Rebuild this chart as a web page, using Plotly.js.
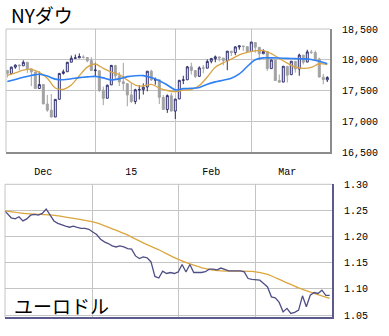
<!DOCTYPE html>
<html>
<head>
<meta charset="utf-8">
<script src="https://cdn.plot.ly/plotly-3.0.1.min.js"></script>
<style>
html,body{margin:0;padding:0;background:#fff;}
#chart{width:389px;height:336px;}
</style>
</head>
<body>
<div id="chart"></div>
<script>
// ---------- NY Dow daily candles (trading days) ----------
const dowDates = [
'2014-12-01','2014-12-02','2014-12-03','2014-12-04','2014-12-05','2014-12-08','2014-12-09','2014-12-10','2014-12-11','2014-12-12',
'2014-12-15','2014-12-16','2014-12-17','2014-12-18','2014-12-19','2014-12-22','2014-12-23','2014-12-24','2014-12-26','2014-12-29',
'2014-12-30','2014-12-31',
'2015-01-02','2015-01-05','2015-01-06','2015-01-07','2015-01-08','2015-01-09','2015-01-12','2015-01-13','2015-01-14','2015-01-15',
'2015-01-16','2015-01-20','2015-01-21','2015-01-22','2015-01-23','2015-01-26','2015-01-27','2015-01-28','2015-01-29','2015-01-30',
'2015-02-02','2015-02-03','2015-02-04','2015-02-05','2015-02-06','2015-02-09','2015-02-10','2015-02-11','2015-02-12','2015-02-13',
'2015-02-17','2015-02-18','2015-02-19','2015-02-20','2015-02-23','2015-02-24','2015-02-25','2015-02-26','2015-02-27',
'2015-03-02','2015-03-03','2015-03-04','2015-03-05','2015-03-06','2015-03-09','2015-03-10','2015-03-11','2015-03-12','2015-03-13',
'2015-03-16','2015-03-17','2015-03-18','2015-03-19','2015-03-20','2015-03-23','2015-03-24','2015-03-25','2015-03-26','2015-03-27'
];
const dowOpen = [
17827,17776,17880,17913,17901,17959,17853,17801,17533,17597,
17281,17180,17069,17357,17778,17805,17960,18024,18030,18046,
18035,17987,
17823,17821,17505,17374,17591,17907,17738,17641,17611,17428,
17321,17512,17514,17557,17815,17667,17673,17387,17191,17415,
17165,17362,17664,17674,17885,17824,17730,17869,17863,17975,
18017,18046,18028,17984,18139,18116,18208,18225,18213,
18134,18281,18203,18097,18135,17856,17995,17662,17637,17893,
17757,17975,17849,18075,17962,18127,18116,18012,17716,17673
];
const dowHigh = [
17827,17887,17924,17928,17991,17959,17853,17801,17808,17597,
17428,17443,17356,17778,17841,17963,18069,18086,18103,18073,
18035,18043,
17951,17821,17563,17597,17916,17916,17799,17949,17611,17622,
17528,17587,17616,17814,17838,17711,17673,17426,17436,17460,
17362,17666,17739,17899,17952,17824,17893,17915,18005,18031,
18069,18053,18028,18142,18143,18218,18231,18225,18213,
18288,18281,18203,18171,18135,18000,17995,17760,17895,17893,
17977,17975,18099,18075,18163,18161,18149,18034,17770,17731
];
const dowLow = [
17713,17776,17852,17832,17901,17787,17570,17528,17533,17281,
17154,17068,17069,17357,17758,17805,17960,18018,18030,18021,
17959,17820,
17731,17475,17262,17374,17591,17685,17572,17501,17243,17299,
17278,17354,17434,17487,17655,17593,17280,17190,17136,17164,
17037,17362,17603,17674,17760,17701,17730,17780,17863,17942,
17959,17973,17911,17830,18061,18074,18163,18144,18125,
18133,18115,17990,18097,17818,17856,17662,17633,17637,17630,
17757,17790,17740,17923,17962,18096,18011,17716,17601,17638
];
const dowClose = [
17776,17880,17913,17901,17959,17853,17801,17533,17597,17281,
17180,17068,17356,17778,17804,17959,18024,18030,18053,18038,
17983,17823,
17833,17501,17371,17585,17908,17737,17640,17613,17427,17320,
17512,17516,17554,17814,17673,17679,17388,17191,17417,17165,
17361,17666,17673,17885,17825,17729,17868,17862,17973,18019,
18047,18029,17986,18140,18117,18209,18225,18214,18133,
18288,18204,18097,18136,17856,17996,17662,17635,17895,17749,
17977,17849,18076,17959,18128,18116,18011,17718,17678,17712
];
// Moving averages, every second trading day
const dowMaShort = [
17745,17785,17830,17845,17795,17698,17540,17520,17590,17740,
17880,17931,17860,17800,17760,17670,17589,17573,17600,17540,
17500,17481,17505,17515,17580,17720,17880,17950,18010,18080,
18120,18145,18150,18100,18020,17945,17880,17860,17875,17935,17920
];
const dowMaLong = [
17645,17680,17715,17745,17765,17735,17685,17675,17690,17710,
17722,17730,17705,17672,17690,17725,17740,17742,17710,17660,
17590,17510,17530,17536,17550,17600,17640,17668,17700,17770,
17890,18000,18030,18030,18028,18022,18018,18015,18005,17975,17935
];
const dowTickDates = ['2014-12-12','2015-01-15','2015-02-13','2015-03-13'];
const dowTickText  = ['Dec','15','Feb','Mar'];
const dowYTicks = [16500,17000,17500,18000,18500];

// ---------- EUR/USD daily (weekdays) ----------
const euroStart = '2014-12-01', euroEnd = '2015-03-27';
const euroVals = [
1.252,1.244,1.236,1.234,1.238,1.230,1.234,1.241,1.2426,1.241,
1.2445,1.2528,1.240,1.230,1.2255,1.222,1.220,1.218,1.2202,1.2178,
1.2158,1.2158,1.214,1.209,1.204,1.195,1.190,1.1868,1.1825,1.1803,
1.1822,1.1803,1.1773,1.176,1.1632,1.158,1.1612,1.1594,1.1517,1.124,
1.121,1.134,1.1296,1.1315,1.1296,1.1326,1.1467,1.1326,1.1467,1.1315,
1.1315,1.1315,1.133,1.1378,1.1378,1.1365,1.140,1.137,1.1346,1.1346,
1.1346,1.1346,1.1326,1.120,1.1185,1.118,1.1168,1.1105,1.104,1.085,
1.083,1.0744,1.0563,1.063,1.0534,1.0553,1.0596,1.087,1.066,1.088,
1.0933,1.0915,1.0977,1.088,1.088
];
// moving average, every fourth weekday
const euroMa = [
1.2495,1.2455,1.2430,1.2415,1.2375,1.2325,1.2265,1.2150,1.2030,1.1880,
1.1750,1.1600,1.1480,1.1390,1.1346,1.1340,1.1335,1.1280,1.1150,1.1020,
1.0915,1.0820
];
const euroYTicks = [1.05,1.10,1.15,1.20,1.25,1.30];

// ---------- derived positions ----------
const dowIdx = dowDates.map((d,i)=>i);
const maIdx = dowIdx.filter(i=>i%2===0);
function monthStarts(dates){
  const out=[];
  dates.forEach((d,i)=>{ if(i>0 && d.slice(5,7)!==dates[i-1].slice(5,7)) out.push(i); });
  return out;
}
const dowGrid = monthStarts(dowDates);
const dowTickIdx = dowTickDates.map(d=>dowDates.indexOf(d));

const euroDates = [];
(function(){
  let t = new Date(euroStart+'T00:00:00Z'); const end = new Date(euroEnd+'T00:00:00Z');
  while(t<=end){ const wd=t.getUTCDay(); if(wd!==0&&wd!==6) euroDates.push(t.toISOString().slice(0,10)); t=new Date(t.getTime()+86400000); }
})();
const euroIdx = euroDates.map((d,i)=>i);
const euroMaIdx = euroIdx.filter(i=>i%4===0);
const euroGrid = monthStarts(euroDates);

// ---------- styling ----------
const W=389,H=336;
const GRID='#c4c4c4', NAVY='#2c2c6c', GREY='#a2a2a2';
const monoFont={family:'Liberation Mono, DejaVu Sans Mono, monospace',size:10,color:'#000'};
const jpFont={family:'Noto Sans CJK JP, sans-serif',size:19,color:'#000'};

const traces = [
  {type:'candlestick', x:dowIdx, open:dowOpen, high:dowHigh, low:dowLow, close:dowClose,
   xaxis:'x', yaxis:'y', whiskerwidth:0, hoverinfo:'skip', showlegend:false,
   increasing:{line:{color:NAVY,width:1}, fillcolor:'#ffffff'},
   decreasing:{line:{color:GREY,width:1}, fillcolor:GREY}},
  {type:'scatter', mode:'lines', x:maIdx, y:dowMaShort, xaxis:'x', yaxis:'y',
   line:{color:'#d9a445',width:1.3,shape:'spline',smoothing:0.8}, hoverinfo:'skip', showlegend:false},
  {type:'scatter', mode:'lines', x:maIdx, y:dowMaLong, xaxis:'x', yaxis:'y',
   line:{color:'#2f7ff5',width:1.6,shape:'spline',smoothing:0.8}, hoverinfo:'skip', showlegend:false},
  {type:'scatter', mode:'lines', x:euroMaIdx, y:euroMa, xaxis:'x2', yaxis:'y2',
   line:{color:'#dba63e',width:1.3,shape:'spline',smoothing:0.6}, hoverinfo:'skip', showlegend:false},
  {type:'scatter', mode:'lines', x:euroIdx, y:euroVals, xaxis:'x2', yaxis:'y2',
   line:{color:'#4f4f88',width:1.3}, hoverinfo:'skip', showlegend:false}
];

function border(xr,yr,x0,y0,x1,y1,color,w){
  return {type:'line',xref:xr,yref:yr,x0:x0,y0:y0,x1:x1,y1:y1,line:{color:color,width:w},layer:'above'};
}

const layout = {
  width:W, height:H, margin:{l:0,r:0,t:0,b:0},
  paper_bgcolor:'#fff', plot_bgcolor:'#fff', showlegend:false,
  xaxis:{domain:[6/W,330/W], anchor:'y', range:[-0.33,80.68], fixedrange:true,
    tickmode:'array', tickvals:dowTickIdx, ticktext:dowTickText, tickfont:monoFont,
    ticks:'outside', ticklen:9, tickcolor:'rgba(0,0,0,0)',
    showgrid:false, zeroline:false,
    minor:{tickmode:'array', tickvals:dowGrid, showgrid:true, gridcolor:GRID, gridwidth:1, ticks:''},
    showline:true, linecolor:'#8c8c8c', linewidth:2, rangeslider:{visible:false}},
  yaxis:{domain:[1-152/H,1-29/H], anchor:'x', side:'right', range:[16500,18500], fixedrange:true,
    tickmode:'array', tickvals:dowYTicks, tickformat:',d', tickfont:monoFont,
    ticks:'outside', ticklen:8, tickcolor:'rgba(0,0,0,0)',
    showgrid:true, gridcolor:GRID, gridwidth:1, zeroline:false,
    showline:true, linecolor:'#8c8c8c', linewidth:2},
  xaxis2:{domain:[5/W,332/W], anchor:'y2', range:[0.4,84.6], fixedrange:true,
    tickmode:'array', tickvals:euroGrid, showticklabels:false, ticks:'',
    showgrid:true, gridcolor:GRID, gridwidth:1, zeroline:false,
    showline:true, linecolor:'#5a5a8c', linewidth:2},
  yaxis2:{domain:[1-317/H,1-184.3/H], anchor:'x2', side:'right', range:[1.0465,1.30], fixedrange:true,
    tickmode:'array', tickvals:euroYTicks, tickformat:'.2f', tickfont:monoFont,
    ticks:'outside', ticklen:8, tickcolor:'rgba(0,0,0,0)',
    showgrid:true, gridcolor:GRID, gridwidth:1, zeroline:false,
    showline:true, linecolor:'#5a5a8c', linewidth:2},
  shapes:[
    border('x domain','y domain',0,0,0,1,GRID,1),
    border('x domain','y domain',0,1,1,1,GRID,1),
    border('x2 domain','y2 domain',0,0,0,1,GRID,1),
    border('x2 domain','y2 domain',0,1,1,1,GRID,1)
  ],
  annotations:[
    {text:'NYダウ', xref:'paper', yref:'paper', x:9/W, y:1-15/H, xanchor:'left', yanchor:'middle',
     showarrow:false, font:jpFont},
    {text:'ユーロドル', xref:'paper', yref:'paper', x:12/W, y:1-305/H, xanchor:'left', yanchor:'middle',
     showarrow:false, font:jpFont}
  ]
};

Plotly.newPlot('chart', traces, layout, {displayModeBar:false, staticPlot:true});
</script>
</body>
</html>
